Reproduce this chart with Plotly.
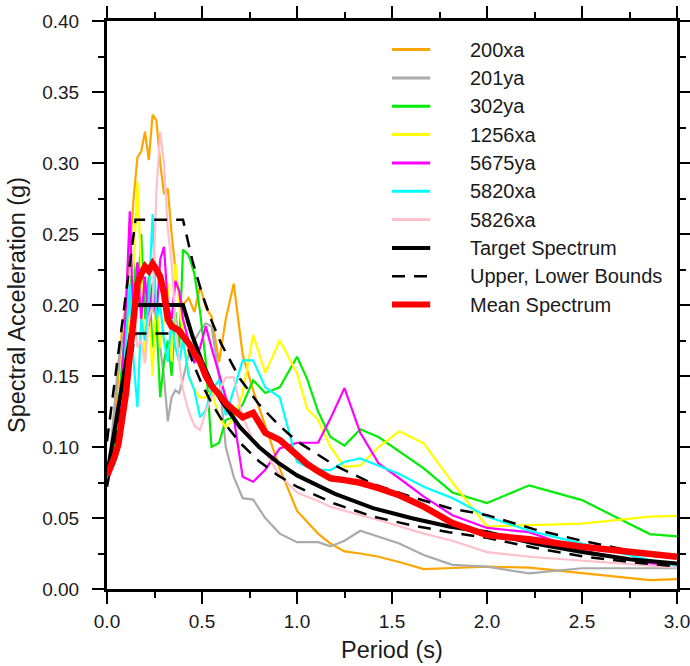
import plotly.graph_objects as go

# Period grid shared by the individual record spectra (s)
periods = [0.0, 0.02, 0.04, 0.06, 0.08, 0.10, 0.12, 0.14, 0.16, 0.18,
           0.20, 0.22, 0.24, 0.26, 0.28, 0.30, 0.32, 0.34, 0.36, 0.38,
           0.40, 0.43, 0.46, 0.49, 0.52, 0.55, 0.59, 0.625, 0.667, 0.714,
           0.769, 0.833, 0.909, 1.0, 1.053, 1.111, 1.176, 1.25, 1.333, 1.429,
           1.538, 1.667, 1.818, 2.0, 2.222, 2.5, 2.857, 3.0]

# Spectral acceleration of each record (g)
sa_200xa = [0.080, 0.090, 0.115, 0.150, 0.185, 0.200, 0.240, 0.275, 0.304, 0.308,
            0.322, 0.302, 0.334, 0.330, 0.300, 0.278, 0.282, 0.250, 0.225, 0.205,
            0.200, 0.205, 0.195, 0.213, 0.198, 0.192, 0.160, 0.190, 0.215, 0.165,
            0.140, 0.115, 0.085, 0.055, 0.047, 0.039, 0.032, 0.0265, 0.025, 0.0227,
            0.019, 0.014, 0.0148, 0.0157, 0.015, 0.0113, 0.0063, 0.007]
sa_201ya = [0.080, 0.100, 0.130, 0.160, 0.175, 0.185, 0.200, 0.215, 0.230, 0.210,
            0.200, 0.185, 0.200, 0.190, 0.170, 0.150, 0.118, 0.135, 0.140, 0.138,
            0.148, 0.165, 0.175, 0.182, 0.187, 0.185, 0.150, 0.100, 0.079, 0.064,
            0.063, 0.050, 0.039, 0.033, 0.033, 0.033, 0.030, 0.034, 0.041, 0.037,
            0.032, 0.024, 0.017, 0.0157, 0.011, 0.0146, 0.0146, 0.0146]
sa_302ya = [0.080, 0.085, 0.100, 0.125, 0.160, 0.185, 0.210, 0.230, 0.200, 0.250,
            0.190, 0.220, 0.170, 0.190, 0.135, 0.160, 0.175, 0.150, 0.195, 0.170,
            0.239, 0.235, 0.222, 0.195, 0.160, 0.100, 0.103, 0.119, 0.121, 0.130,
            0.147, 0.138, 0.142, 0.1635, 0.148, 0.125, 0.107, 0.101, 0.1125, 0.107,
            0.097, 0.085, 0.068, 0.0605, 0.073, 0.0626, 0.0387, 0.037]
sa_1256xa = [0.080, 0.085, 0.095, 0.110, 0.130, 0.150, 0.200, 0.230, 0.287, 0.220,
             0.160, 0.200, 0.150, 0.210, 0.170, 0.190, 0.215, 0.160, 0.229, 0.200,
             0.180, 0.150, 0.140, 0.135, 0.135, 0.140, 0.121, 0.114, 0.120, 0.138,
             0.179, 0.152, 0.175, 0.152, 0.127, 0.119, 0.100, 0.086, 0.087, 0.100,
             0.111, 0.1025, 0.075, 0.044, 0.045, 0.046, 0.051, 0.0515]
sa_5675ya = [0.080, 0.082, 0.090, 0.110, 0.150, 0.200, 0.266, 0.180, 0.230, 0.190,
             0.220, 0.185, 0.215, 0.190, 0.232, 0.241, 0.200, 0.190, 0.217, 0.210,
             0.190, 0.175, 0.159, 0.170, 0.185, 0.170, 0.152, 0.135, 0.121, 0.079,
             0.0755, 0.084, 0.099, 0.103, 0.103, 0.103, 0.120, 0.1415, 0.110, 0.0885,
             0.078, 0.065, 0.052, 0.043, 0.040, 0.027, 0.018, 0.017]
sa_5820xa = [0.080, 0.082, 0.088, 0.100, 0.125, 0.175, 0.215, 0.160, 0.128, 0.190,
             0.175, 0.205, 0.264, 0.190, 0.200, 0.175, 0.160, 0.190, 0.170, 0.160,
             0.175, 0.150, 0.140, 0.121, 0.126, 0.140, 0.147, 0.1225, 0.140, 0.161,
             0.161, 0.142, 0.135, 0.0896, 0.086, 0.084, 0.0837, 0.0896, 0.092, 0.087,
             0.081, 0.072, 0.064, 0.051, 0.041, 0.032, 0.020, 0.0157]
sa_5826xa = [0.080, 0.082, 0.090, 0.105, 0.130, 0.160, 0.180, 0.200, 0.170, 0.175,
             0.159, 0.190, 0.200, 0.280, 0.322, 0.300, 0.253, 0.230, 0.190, 0.160,
             0.140, 0.125, 0.115, 0.112, 0.125, 0.135, 0.140, 0.149, 0.149, 0.121,
             0.105, 0.096, 0.080, 0.068, 0.065, 0.062, 0.058, 0.055, 0.052, 0.0486,
             0.044, 0.039, 0.034, 0.026, 0.0227, 0.020, 0.0164, 0.015]
sa_mean = [0.080, 0.086, 0.093, 0.102, 0.118, 0.138, 0.165, 0.190, 0.215, 0.222,
           0.227, 0.224, 0.229, 0.225, 0.220, 0.208, 0.190, 0.185, 0.183, 0.182,
           0.178, 0.173, 0.166, 0.160, 0.150, 0.143, 0.137, 0.131, 0.126, 0.121,
           0.124, 0.110, 0.105, 0.094, 0.088, 0.083, 0.078, 0.0767, 0.0748, 0.071,
           0.066, 0.058, 0.0464, 0.038, 0.035, 0.0298, 0.024, 0.0227]

# Design (target) spectrum and its acceptance band
target_periods = [0.0, 0.15, 0.40, 0.45, 0.50, 0.55, 0.60, 0.70, 0.80, 0.90,
                  1.00, 1.20, 1.40, 1.60, 1.80, 2.00, 2.25, 2.50, 2.75, 3.00]
target_sa = [0.080, 0.200, 0.200, 0.178, 0.160, 0.145, 0.133, 0.114, 0.100, 0.089,
             0.080, 0.067, 0.057, 0.050, 0.044, 0.040, 0.032, 0.026, 0.021, 0.018]
upper_sa = [0.104, 0.260, 0.260, 0.231, 0.208, 0.189, 0.173, 0.148, 0.130, 0.116,
            0.104, 0.087, 0.074, 0.065, 0.057, 0.052, 0.042, 0.034, 0.027, 0.023]
lower_sa = [0.072, 0.180, 0.180, 0.160, 0.144, 0.131, 0.120, 0.103, 0.090, 0.080,
            0.072, 0.060, 0.051, 0.045, 0.040, 0.036, 0.029, 0.023, 0.019, 0.016]

records = [
    ("200xa", sa_200xa, "#FFA500"),
    ("201ya", sa_201ya, "#AAAAAA"),
    ("302ya", sa_302ya, "#00EE00"),
    ("1256xa", sa_1256xa, "#FFFF00"),
    ("5675ya", sa_5675ya, "#FF00FF"),
    ("5820xa", sa_5820xa, "#00FFFF"),
    ("5826xa", sa_5826xa, "#FFC0CB"),
]

DASH = "13px,9px"
FONT = "Liberation Sans, Arial, Helvetica, sans-serif"

fig = go.Figure()
legend_items = []  # (label, color, width, dash)

for name, vals, color in records:
    fig.add_trace(go.Scatter(x=periods, y=vals, mode="lines", name=name,
                             line=dict(color=color, width=2.2)))
    legend_items.append((name, color, 3, "solid"))

fig.add_trace(go.Scatter(x=target_periods, y=target_sa, mode="lines",
                         name="Target Spectrum",
                         line=dict(color="black", width=4)))
legend_items.append(("Target Spectrum", "black", 4, "solid"))

fig.add_trace(go.Scatter(x=target_periods, y=upper_sa, mode="lines",
                         name="Upper, Lower Bounds",
                         line=dict(color="black", width=2.5, dash=DASH)))
fig.add_trace(go.Scatter(x=target_periods, y=lower_sa, mode="lines",
                         name="Lower Bound", showlegend=False,
                         line=dict(color="black", width=2.5, dash=DASH)))
legend_items.append(("Upper, Lower Bounds", "black", 2.5, DASH))

fig.add_trace(go.Scatter(x=periods, y=sa_mean, mode="lines",
                         name="Mean Spectrum",
                         line=dict(color="#FF0000", width=6.5)))
legend_items.append(("Mean Spectrum", "#FF0000", 6, "solid"))

# Legend drawn inside the upper-right corner of the plotting area
plot_top_px, plot_h_px = 20.7, 568.3
row0_px, row_step_px = 49.3, 28.35
shapes, annotations = [], []
for i, (label, color, width, dash) in enumerate(legend_items):
    yp = 1 - (row0_px + i * row_step_px - plot_top_px) / plot_h_px
    shapes.append(dict(type="line", xref="paper", yref="paper",
                       x0=0.500, x1=0.567, y0=yp, y1=yp,
                       line=dict(color=color, width=width, dash=dash)))
    annotations.append(dict(text=label, xref="paper", yref="paper",
                            x=0.633, y=yp, xanchor="left", yanchor="middle",
                            showarrow=False,
                            font=dict(family=FONT, size=20, color="#1a1a1a")))

axis_common = dict(
    showline=True, linewidth=3, linecolor="black", mirror="ticks",
    ticks="outside", ticklen=12, tickwidth=2, tickcolor="black",
    showgrid=False, zeroline=False, automargin=False,
    tickfont=dict(family=FONT, size=19, color="#1a1a1a"),
    ticklabeloverflow="allow",
)

fig.update_layout(
    width=690, height=666,
    margin=dict(l=107, r=13, t=21, b=77),
    paper_bgcolor="white", plot_bgcolor="white",
    showlegend=False,
    shapes=shapes, annotations=annotations,
    xaxis=dict(range=[0, 3], dtick=0.5, tick0=0, tickformat=".1f",
               ticklabelstandoff=1,
               minor=dict(dtick=0.25, ticklen=6, tickwidth=2, ticks="outside",
                          tickcolor="black"),
               title=dict(text="Period (s)", standoff=11,
                          font=dict(family=FONT, size=23.5, color="#1a1a1a")),
               **axis_common),
    yaxis=dict(range=[0, 0.4], dtick=0.05, tick0=0, tickformat=".2f",
               ticklabelstandoff=9,
               minor=dict(dtick=0.025, ticklen=6, tickwidth=2, ticks="outside",
                          tickcolor="black"),
               title=dict(text="Spectral Acceleration (g)", standoff=10,
                          font=dict(family=FONT, size=23.5, color="#1a1a1a")),
               **axis_common),
)

fig.write_html("out.html")
